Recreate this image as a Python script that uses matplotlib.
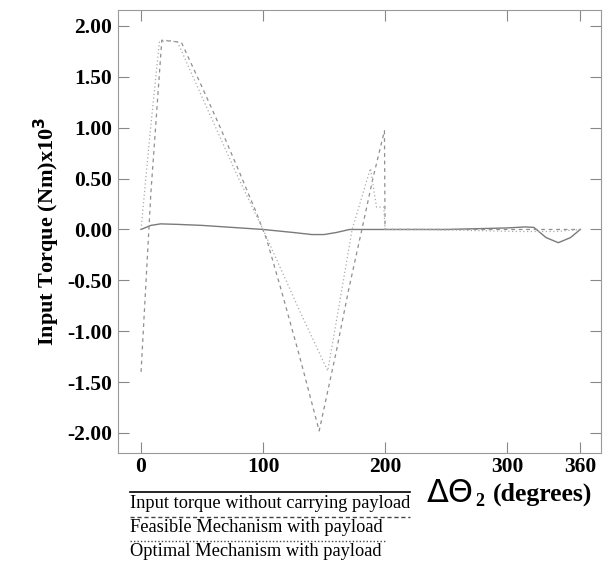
import matplotlib
matplotlib.use("Agg")
import matplotlib.pyplot as plt
from matplotlib.lines import Line2D

# ---- data ----
no_payload_x = [0, 8, 16, 30, 50, 75, 100, 125, 140, 150, 160, 171, 200, 250, 300, 315, 322, 332, 342, 352, 360]
no_payload_y = [0.0, 0.04, 0.055, 0.05, 0.04, 0.02, 0.0, -0.03, -0.05, -0.05, -0.03, 0.0, 0.0, 0.0, 0.015, 0.025, 0.02, -0.08, -0.13, -0.08, 0.0]

feasible_x = [0, 8, 17, 25, 33, 50, 65, 80, 95, 103, 115, 130, 146, 160, 170, 181, 190, 199.5, 200, 230, 270, 310, 340, 360]
feasible_y = [-1.40, 0.35, 1.86, 1.85, 1.84, 1.40, 1.00, 0.58, 0.15, -0.10, -0.60, -1.25, -1.98, -1.20, -0.60, 0.0, 0.50, 0.97, 0.0, 0.0, 0.0, 0.0, 0.0, 0.0]

optimal_x = [0, 7, 15, 22, 30, 50, 65, 80, 100, 115, 130, 153, 163, 173, 188, 193, 199, 200, 230, 270, 310, 340, 350, 360]
optimal_y = [0.0, 0.9, 1.84, 1.86, 1.84, 1.30, 0.90, 0.50, 0.0, -0.40, -0.80, -1.39, -0.70, 0.0, 0.60, 0.22, 0.22, 0.0, 0.0, -0.01, -0.02, -0.02, -0.01, 0.0]

x_ticks = [0, 100, 200, 300, 360]
y_ticks = [-2.0, -1.5, -1.0, -0.5, 0.0, 0.5, 1.0, 1.5, 2.0]
legend_labels = ["Input torque without carrying payload",
                 "Feasible Mechanism with payload",
                 "Optimal Mechanism with payload"]

plt.rcParams['font.family'] = ['Liberation Serif', 'DejaVu Serif']

fig = plt.figure(figsize=(6.03, 5.66), dpi=100)
ax = fig.add_axes([118/603, 1-453/566, (601-118)/603, (453-10)/566])

ax.plot(no_payload_x, no_payload_y, color='#7a7a7a', lw=1.0, ls='-')
ax.plot(feasible_x, feasible_y, color='#8f8f8f', lw=0.9, ls=(0, (3, 3)))
ax.plot(optimal_x, optimal_y, color='#ababab', lw=0.9, ls=(0, (1, 2)))

ax.set_xlim(-18.9, 377)
ax.set_ylim(-2.197, 2.157)
ax.set_xticks(x_ticks)
ax.set_yticks(y_ticks)
ax.set_xticklabels([str(v) for v in x_ticks], fontweight='bold', fontsize=15.5)
ax.set_yticklabels([f"{v:.2f}" for v in y_ticks], fontweight='bold', fontsize=15.5)
ax.tick_params(direction='in', length=8, width=0.8, color='#888888',
               top=True, right=True, pad=4)
ax.tick_params(axis='x', pad=3)
for s in ax.spines.values():
    s.set_color('#999999')
    s.set_linewidth(0.8)

ax.set_ylabel(r"Input Torque (Nm)x10$^{\mathbf{3}}$", fontsize=16, fontweight='bold', labelpad=4)

# x label (bottom right)
fig.text(427/603, 1-494/566, "\u0394\u0398", fontsize=23, family='DejaVu Sans', va='center', ha='left')
fig.text(475/603, 1-501/566, "2", fontsize=13, fontweight='bold', va='center', ha='left')
fig.text(493/603, 1-494/566, "(degrees)", fontsize=18.5, fontweight='bold', va='center', ha='left')

# legend drawn below axes
leg_styles = [dict(color='black', ls='-', lw=1.2),
              dict(color='#444444', ls=(0, (3, 2)), lw=1.0),
              dict(color='#444444', ls=(0, (1, 1.5)), lw=1.0)]
line_y = [492, 517, 541]
line_x1 = [410, 410, 385]
text_y = [504, 528, 552]
for lbl, st, ly, lx1, ty in zip(legend_labels, leg_styles, line_y, line_x1, text_y):
    fig.add_artist(Line2D([130/603, lx1/603], [1-ly/566, 1-ly/566], transform=fig.transFigure, **st))
    fig.text(130/603, 1-ty/566, lbl, fontsize=13.2, va='center', ha='left')

fig.savefig("out.png", dpi=100)
